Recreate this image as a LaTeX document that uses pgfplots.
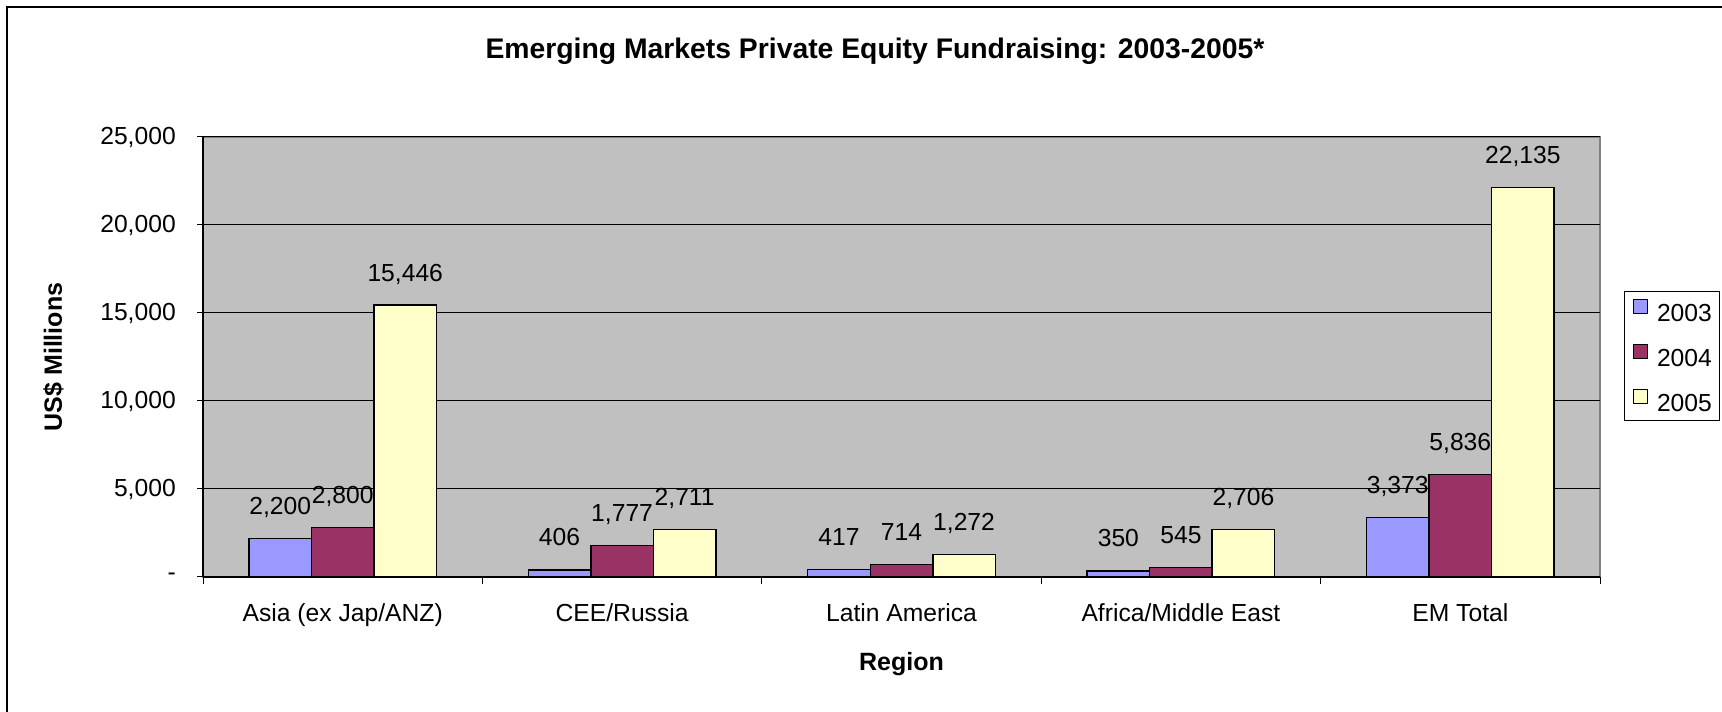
\documentclass[border=0pt]{standalone}
\usepackage{fontspec}
\setmainfont{Liberation Sans}
\usepackage{pgfplots}
\pgfplotsset{compat=1.18}
\definecolor{c2003}{HTML}{9999FF}
\definecolor{c2004}{HTML}{993366}
\definecolor{c2005}{HTML}{FFFFCC}
\definecolor{plotbg}{HTML}{C0C0C0}
\definecolor{plotframe}{HTML}{808080}

\begin{document}
\begin{tikzpicture}
\useasboundingbox (0,0) rectangle (1291.5pt,534pt);
% outer chart frame (only left and top edges fall inside the picture)
\draw[line width=1.1pt] (5.25pt,0) -- (5.25pt,528.75pt) -- (1300pt,528.75pt);
\begin{axis}[
    at={(152.25pt,101.25pt)}, anchor=south west,
    width=1047.75pt, height=330pt, scale only axis,
    ybar=0pt, bar width=46.9pt,
    xmin=-0.5, xmax=4.5, ymin=0, ymax=25000,
    scaled y ticks=false,
    axis x line*=bottom, axis y line*=left,
    axis line style={black, line width=1.1pt},
    axis background/.style={fill=plotbg, draw=plotframe, line width=1.1pt},
    ymajorgrids, grid style={black, line width=0.75pt},
    tick align=outside,
    xtick={0,1,2,3,4},
    xticklabels={{Asia (ex Jap/ANZ)},{CEE/Russia},{Latin America},{Africa/Middle East},{EM Total}},
    major x tick style={draw=none},
    minor xtick={-0.5,0.5,1.5,2.5,3.5,4.5},
    minor tick length=5.25pt, major tick length=4.5pt,
    tick style={black, line width=0.75pt},
    ytick={0,5000,10000,15000,20000,25000},
    yticklabels={{-},{5,000},{10,000},{15,000},{20,000},{25,000}},
    ticklabel style={font=\fontsize{18.5}{22}\selectfont},
    xticklabel style={anchor=base, yshift=-28.6pt},
    yticklabel style={anchor=east, inner sep=0pt, xshift=-15.75pt},
    /pgf/number format/.cd, fixed, precision=0, 1000 sep={,}, assume math mode=true,
    /pgfplots/.cd,
    nodes near coords,
    nodes near coords style={font=\fontsize{18.5}{22}\selectfont, anchor=base, inner sep=0pt, yshift=18pt},
    title={Emerging Markets Private Equity Fundraising: 2003-2005*},
    title style={font=\bfseries\fontsize{21.25}{25}\selectfont, at={(0.481,1)}, anchor=base, yshift=53pt},
    xlabel={Region},
    xlabel style={font=\bfseries\fontsize{18.75}{22}\selectfont, at={(0.5,0)}, anchor=base, yshift=-70.5pt},
    ylabel={US\$ Millions},
    ylabel style={font=\bfseries\fontsize{18.75}{22}\selectfont, at={(0,0.5)}, anchor=base, yshift=105.75pt},
    legend style={at={(1.0172,0.65)}, anchor=north west, draw=black, fill=white,
        line width=0.75pt, font=\fontsize{18.5}{22}\selectfont,
        inner xsep=6pt, inner ysep=5.5pt, row sep=15.5pt, column sep=6.75pt,
        nodes={inner sep=0pt}, cells={anchor=west}},
    legend image code/.code={\draw[#1, line width=1.1pt] (0pt,0pt) rectangle (10.5pt,10.5pt);},
    every axis plot/.append style={draw=black, line width=1.1pt},
]
\addplot[fill=c2003] coordinates {(0,2200) (1,406) (2,417) (3,350) (4,3373)};
\addplot[fill=c2004] coordinates {(0,2800) (1,1777) (2,714) (3,545) (4,5836)};
\addplot[fill=c2005] coordinates {(0,15446) (1,2711) (2,1272) (3,2706) (4,22135)};
\legend{2003,2004,2005}
\end{axis}
\end{tikzpicture}
\end{document}
